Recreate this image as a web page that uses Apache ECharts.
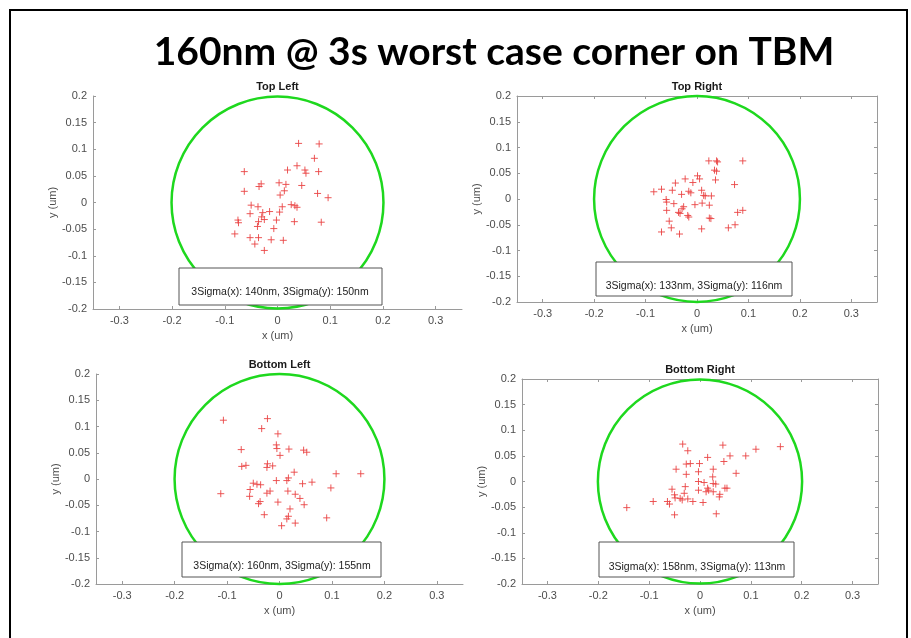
<!DOCTYPE html>
<html>
<head>
<meta charset="utf-8">
<script src="https://cdn.jsdelivr.net/npm/echarts@6/dist/echarts.min.js"></script>
<style>
  html, body { margin: 0; padding: 0; background: #fff; }
  #main { width: 911px; height: 638px; }
</style>
</head>
<body>
<div id="main"></div>
<script>
// tick values shared by all four plots
const xTicks = [-0.3, -0.2, -0.1, 0, 0.1, 0.2, 0.3];
const yTicks = [-0.2, -0.15, -0.1, -0.05, 0, 0.05, 0.1, 0.15, 0.2];
const circleRadius = 0.2;

const panelTitles = ['Top Left', 'Top Right', 'Bottom Left', 'Bottom Right'];
const sigmaLabels = [
  '3Sigma(x): 140nm, 3Sigma(y): 150nm',
  '3Sigma(x): 133nm, 3Sigma(y): 116nm',
  '3Sigma(x): 160nm, 3Sigma(y): 155nm',
  '3Sigma(x): 158nm, 3Sigma(y): 113nm'
];

const topLeftPoints = [
  [0.040, 0.111], [0.079, 0.110], [0.070, 0.083], [0.037, 0.069], [0.019, 0.061],
  [0.052, 0.061], [0.054, 0.055], [0.078, 0.058], [-0.063, 0.058], [0.003, 0.037],
  [0.016, 0.034], [-0.031, 0.035], [-0.035, 0.030], [0.013, 0.022], [0.005, 0.014],
  [0.046, 0.032], [-0.063, 0.021], [0.076, 0.017], [0.096, 0.009], [-0.050, -0.005],
  [-0.037, -0.008], [0.009, -0.008], [0.026, -0.004], [0.033, -0.006], [0.037, -0.009],
  [-0.052, -0.021], [-0.028, -0.019], [-0.015, -0.017], [0.004, -0.018], [-0.030, -0.027],
  [-0.025, -0.032], [-0.075, -0.033], [-0.074, -0.038], [-0.036, -0.036], [-0.002, -0.033],
  [0.032, -0.036], [0.083, -0.037], [-0.038, -0.045], [-0.007, -0.049], [-0.081, -0.059],
  [-0.052, -0.066], [-0.036, -0.066], [-0.012, -0.070], [0.011, -0.071], [-0.043, -0.078],
  [-0.025, -0.090]
];
const topRightPoints = [
  [0.023, 0.074], [0.038, 0.074], [0.040, 0.072], [0.089, 0.074], [0.034, 0.056],
  [0.038, 0.054], [0.036, 0.037], [0.073, 0.028], [0.001, 0.045], [0.005, 0.039],
  [-0.023, 0.039], [-0.008, 0.032], [-0.042, 0.031], [-0.084, 0.014], [-0.069, 0.019],
  [-0.048, 0.017], [-0.030, 0.009], [-0.016, 0.015], [-0.012, 0.012], [0.009, 0.017],
  [0.013, 0.007], [0.016, 0.006], [0.028, 0.006], [-0.060, -0.001], [-0.059, -0.006],
  [-0.045, -0.009], [-0.004, -0.011], [0.010, -0.008], [0.024, -0.012], [-0.026, -0.015],
  [-0.029, -0.019], [-0.059, -0.022], [-0.036, -0.026], [-0.033, -0.028], [-0.018, -0.032],
  [-0.016, -0.035], [0.024, -0.037], [0.027, -0.038], [0.089, -0.022], [0.079, -0.026],
  [-0.054, -0.043], [-0.050, -0.056], [-0.069, -0.064], [-0.034, -0.068], [0.009, -0.058],
  [0.061, -0.056], [0.074, -0.050]
];
const bottomLeftPoints = [
  [-0.107, 0.112], [-0.023, 0.115], [-0.034, 0.096], [-0.003, 0.086], [-0.006, 0.065],
  [-0.005, 0.058], [0.001, 0.045], [0.018, 0.057], [0.046, 0.055], [0.052, 0.051],
  [-0.073, 0.056], [-0.072, 0.024], [-0.064, 0.026], [-0.023, 0.029], [-0.024, 0.022],
  [-0.013, 0.025], [0.028, 0.013], [0.108, 0.010], [0.155, 0.010], [-0.112, -0.028],
  [-0.050, -0.008], [-0.043, -0.010], [-0.036, -0.011], [-0.006, -0.003], [0.014, -0.003],
  [0.017, 0.002], [0.044, -0.009], [0.062, -0.006], [0.098, -0.017], [-0.056, -0.020],
  [-0.057, -0.033], [-0.018, -0.023], [-0.024, -0.027], [0.016, -0.023], [0.030, -0.029],
  [0.039, -0.037], [0.047, -0.049], [-0.037, -0.043], [-0.040, -0.047], [-0.003, -0.044],
  [0.020, -0.057], [0.017, -0.071], [0.014, -0.076], [-0.029, -0.068], [0.030, -0.084],
  [0.004, -0.089], [0.090, -0.074]
];
const bottomRightPoints = [
  [-0.034, 0.073], [-0.024, 0.060], [0.045, 0.071], [0.015, 0.047], [0.059, 0.050],
  [0.090, 0.050], [0.110, 0.063], [0.158, 0.068], [-0.027, 0.034], [-0.019, 0.035],
  [-0.001, 0.035], [0.047, 0.039], [-0.047, 0.024], [-0.027, 0.014], [-0.003, 0.019],
  [0.026, 0.024], [0.025, 0.009], [0.071, 0.016], [-0.003, 0.000], [0.008, -0.002],
  [0.026, -0.004], [0.031, -0.005], [-0.029, -0.010], [-0.055, -0.015], [-0.003, -0.017],
  [0.015, -0.013], [0.017, -0.017], [0.012, -0.020], [0.026, -0.020], [0.049, -0.013],
  [0.053, -0.013], [-0.031, -0.023], [-0.050, -0.026], [-0.049, -0.032], [-0.039, -0.033],
  [-0.035, -0.036], [-0.024, -0.034], [0.039, -0.025], [0.038, -0.030], [-0.092, -0.039],
  [-0.064, -0.039], [-0.060, -0.044], [-0.014, -0.039], [0.006, -0.041], [-0.144, -0.051],
  [-0.050, -0.065], [0.032, -0.063]
];

const panelPoints = [topLeftPoints, topRightPoints, bottomLeftPoints, bottomRightPoints];

// layout of the four axes boxes (pixels)
const panels = [
  { left: 93, top: 96, width: 369, height: 213, boxed: false, box: [179, 268, 203, 37], textPos: [280, 292] },
  { left: 517, top: 96, width: 360, height: 206, boxed: true, box: [596, 262, 196, 34], textPos: [694, 286] },
  { left: 96, top: 374, width: 367, height: 210, boxed: false, box: [182, 542, 199, 35], textPos: [282, 566] },
  { left: 522, top: 379, width: 356, height: 205, boxed: true, box: [599, 542, 195, 35], textPos: [697, 567] }
];

const axisGray = '#9a9a9a';
const labelGray = '#4d4d4d';
const baseFont = 'Liberation Sans, Arial, sans-serif';

const chart = echarts.init(document.getElementById('main'), null, { renderer: 'canvas' });

let grid = [], xAxis = [], yAxis = [], series = [], graphic = [];

// outer slide frame + big title
graphic.push({
  type: 'rect', z: 100,
  shape: { x: 10, y: 10, width: 897, height: 660 },
  style: { fill: 'none', stroke: '#000', lineWidth: 2 }
});
graphic.push({
  type: 'text', z: 100, x: 494, y: 52,
  style: {
    text: '160nm @ 3s worst case corner on TBM',
    font: 'bold 39px Lato, "Open Sans", sans-serif',
    fill: '#000', textAlign: 'center', textVerticalAlign: 'middle'
  }
});

panels.forEach(function (p, i) {
  grid.push({ left: p.left, top: p.top, width: p.width, height: p.height, containLabel: false });

  let xIdx = xAxis.length;
  let yIdx = yAxis.length;
  xAxis.push({
    type: 'value', gridIndex: i, min: -0.35, max: 0.35, position: 'bottom',
    name: 'x (um)', nameLocation: 'middle', nameGap: 21,
    nameTextStyle: { color: labelGray, fontSize: 11, fontFamily: baseFont },
    axisLine: { onZero: false, lineStyle: { color: axisGray, width: 1 } },
    axisTick: { inside: true, length: 3, lineStyle: { color: axisGray }, customValues: xTicks },
    axisLabel: { color: labelGray, fontSize: 11, fontFamily: baseFont, margin: 6, customValues: xTicks },
    splitLine: { show: false }
  });
  yAxis.push({
    type: 'value', gridIndex: i, min: -0.2, max: 0.2, position: 'left',
    name: 'y (um)', nameLocation: 'middle', nameGap: 31, nameRotate: 90,
    nameTextStyle: { color: labelGray, fontSize: 11, fontFamily: baseFont },
    axisLine: { show: true, onZero: false, lineStyle: { color: axisGray, width: 1 } },
    axisTick: { show: true, inside: true, length: 3, lineStyle: { color: axisGray }, customValues: yTicks },
    axisLabel: { color: labelGray, fontSize: 11, fontFamily: baseFont, margin: 6, customValues: yTicks },
    splitLine: { show: false }
  });
  if (p.boxed) {
    // matlab "box on": top and right edges with inward ticks
    xAxis.push({
      type: 'value', gridIndex: i, min: -0.35, max: 0.35, position: 'top',
      axisLine: { onZero: false, lineStyle: { color: axisGray } },
      axisTick: { inside: true, length: 3, lineStyle: { color: axisGray }, customValues: xTicks },
      axisLabel: { show: false }, splitLine: { show: false }
    });
    yAxis.push({
      type: 'value', gridIndex: i, min: -0.2, max: 0.2, position: 'right',
      axisLine: { show: true, onZero: false, lineStyle: { color: axisGray } },
      axisTick: { show: true, inside: true, length: 3, lineStyle: { color: axisGray }, customValues: yTicks },
      axisLabel: { show: false }, splitLine: { show: false }
    });
  }

  // 3 sigma target circle
  series.push({
    type: 'custom', xAxisIndex: xIdx, yAxisIndex: yIdx,
    data: [[0, 0, circleRadius]],
    encode: { x: 0, y: 1 },
    clip: false, silent: true, z: 3,
    renderItem: function (params, api) {
      let c = api.coord([api.value(0), api.value(1)]);
      let s = api.size([api.value(2), api.value(2)]);
      return {
        type: 'circle',
        shape: { cx: c[0], cy: c[1], r: (s[0] + s[1]) / 2 },
        style: { fill: 'none', stroke: '#1ed81e', lineWidth: 2.5 }
      };
    }
  });

  series.push({
    type: 'scatter', xAxisIndex: xIdx, yAxisIndex: yIdx,
    data: panelPoints[i],
    symbol: 'path://M5,0L5,10M0,5L10,5',
    symbolSize: 7,
    itemStyle: { color: 'none', borderColor: '#ea4545', borderWidth: 1, opacity: 0.9 },
    z: 4
  });

  // panel title
  graphic.push({
    type: 'text', z: 100,
    x: p.left + p.width * (0.35 / 0.7), y: p.top - 9,
    style: {
      text: panelTitles[i], font: 'bold 11px ' + baseFont, fill: '#1a1a1a',
      textAlign: 'center', textVerticalAlign: 'middle'
    }
  });
  // sigma annotation box
  graphic.push({
    type: 'rect', z: 90,
    shape: { x: p.box[0], y: p.box[1], width: p.box[2], height: p.box[3] },
    style: { fill: '#fff', stroke: '#555', lineWidth: 1 }
  });
  graphic.push({
    type: 'text', z: 100, x: p.textPos[0], y: p.textPos[1],
    style: {
      text: sigmaLabels[i], font: '10.5px ' + baseFont, fill: '#222',
      textAlign: 'center', textVerticalAlign: 'middle'
    }
  });
});

chart.setOption({
  backgroundColor: '#fff',
  animation: false,
  grid: grid,
  xAxis: xAxis,
  yAxis: yAxis,
  series: series,
  graphic: graphic
});
</script>
</body>
</html>
